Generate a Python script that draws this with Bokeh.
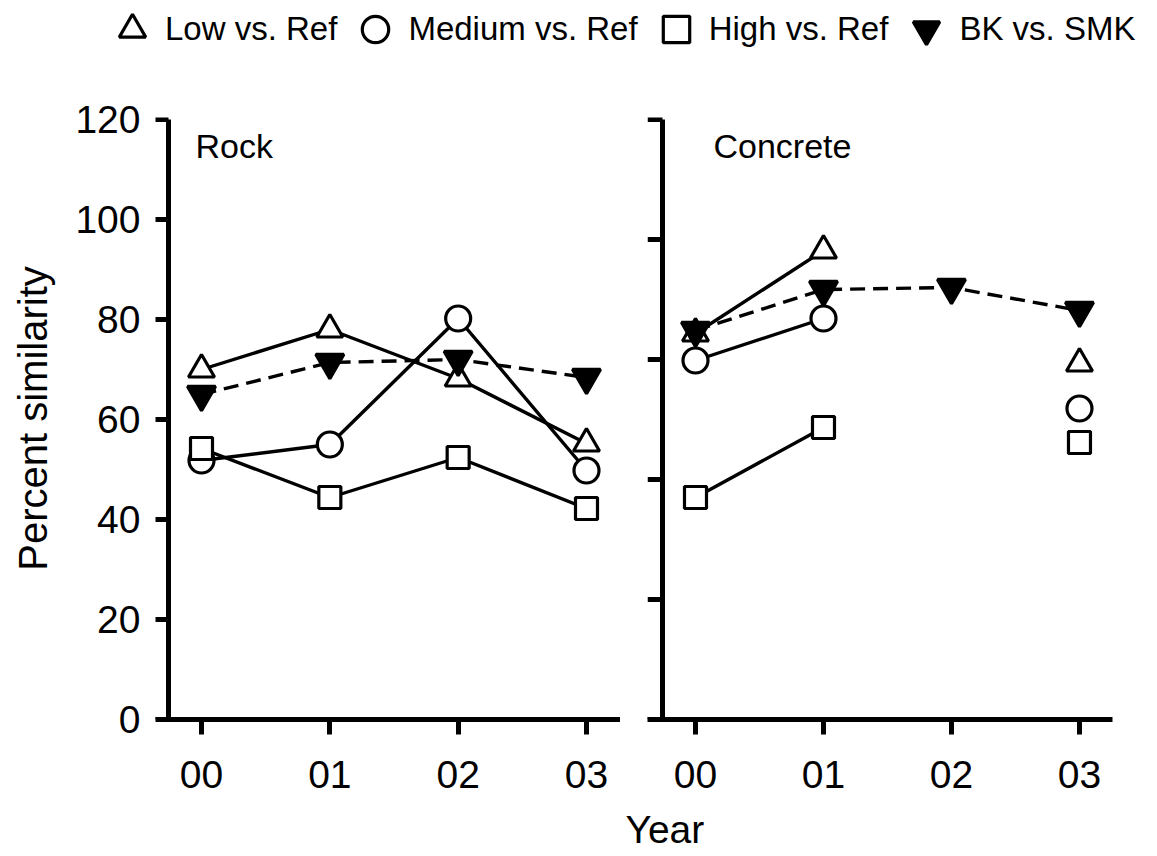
import math
from bokeh.plotting import figure
from bokeh.models import Range1d, FixedTicker, Legend, LegendItem, Label, Title, LinearAxis
from bokeh.layouts import column, row
from bokeh.embed import file_html
from bokeh.resources import INLINE

nan = float("nan")

# ---------------- data ----------------
years = [0, 1, 2, 3]
year_labels = ["00", "01", "02", "03"]
left_yticks = [0, 20, 40, 60, 80, 100, 120]
right_yticks = [0, 24, 48, 72, 96, 120]

series_names = ["Low vs. Ref", "Medium vs. Ref", "High vs. Ref", "BK vs. SMK"]

rock_low = [70.0, 78.0, 68.2, 55.2]
rock_medium = [51.8, 55.0, 80.2, 49.8]
rock_high = [54.2, 44.4, 52.4, 42.2]
rock_bk = [65.0, 71.4, 72.0, 68.4]

concrete_low = [77.2, 93.8, nan, 71.2]
concrete_medium = [71.8, 80.2, nan, 62.2]
concrete_high = [44.4, 58.4, nan, 55.4]
concrete_bk = [77.8, 86.0, 86.4, 81.8]

# ---------------- styles ----------------
FONT = "Liberation Sans"

marker_styles = {
    "Low vs. Ref": dict(marker="triangle", size=26, fill_color="white"),
    "Medium vs. Ref": dict(marker="circle", size=25, fill_color="white"),
    "High vs. Ref": dict(marker="square", size=22, fill_color="white"),
    "BK vs. SMK": dict(marker="inverted_triangle", size=28, fill_color="black"),
}
line_dashes = {"Low vs. Ref": "solid", "Medium vs. Ref": "solid",
               "High vs. Ref": "solid", "BK vs. SMK": "15 8"}
draw_order = ["Medium vs. Ref", "High vs. Ref", "Low vs. Ref", "BK vs. SMK"]


def axis_common(ax):
    ax.axis_line_width = 5
    ax.axis_line_color = "black"
    ax.major_tick_line_width = 5
    ax.major_tick_line_color = "black"
    ax.minor_tick_line_color = None
    ax.major_label_text_font = FONT
    ax.major_label_text_font_size = "39px"
    ax.major_label_text_color = "black"
    ax.axis_label_text_font = FONT
    ax.axis_label_text_font_style = "normal"
    ax.axis_label_text_color = "black"


def make_panel(x_start, x_end, yaxis_loc, border_left, border_right, yticks,
               data, panel_name, label_x):
    p = figure(frame_width=465, frame_height=602,
               x_range=Range1d(x_start, x_end), y_range=Range1d(0, 120.4),
               min_border_left=border_left, min_border_right=border_right,
               min_border_top=53, min_border_bottom=137,
               output_backend="svg", toolbar_location=None)
    p.grid.visible = False
    p.outline_line_color = None
    p.background_fill_color = "white"
    p.border_fill_color = "white"

    xa = p.xaxis[0]
    axis_common(xa)
    xa.ticker = FixedTicker(ticks=years)
    xa.major_label_overrides = {y: lab for y, lab in zip(years, year_labels)}
    xa.major_tick_out = 15
    xa.major_tick_in = 0
    xa.major_label_standoff = 26

    # visible y axis line + ticks (no labels), placed a little inside the frame
    ya = LinearAxis(fixed_location=yaxis_loc, ticker=FixedTicker(ticks=yticks),
                    bounds=(0, 120))
    axis_common(ya)
    ya.major_tick_in = 15
    ya.major_tick_out = 0
    ya.major_label_text_font_size = "1px"
    ya.major_label_text_color = None
    ya.major_label_standoff = 0
    p.add_layout(ya, "right")

    for name in series_names:
        p.line(years, data[name], line_color="black", line_width=3.4,
               line_dash=line_dashes[name])
    for name in draw_order:
        p.scatter(years, data[name], line_color="black", line_width=3.2,
                  **marker_styles[name])
    p.add_layout(Label(x=label_x, y=593, x_units="screen", y_units="screen",
                       text=panel_name, text_font=FONT, text_font_size="34px",
                       text_baseline="top", text_color="black"))
    return p


left = make_panel(-0.3585, 3.265, -0.257, 155, 0, left_yticks,
                  dict(zip(series_names, [rock_low, rock_medium, rock_high, rock_bk])),
                  "Rock", 40)
lab_axis = left.yaxis[0]
axis_common(lab_axis)
lab_axis.ticker = FixedTicker(ticks=left_yticks)
lab_axis.axis_line_color = None
lab_axis.major_tick_line_color = None
lab_axis.major_tick_out = 0
lab_axis.major_tick_in = 0
lab_axis.major_label_standoff = 15
lab_axis.axis_label = "Percent similarity"
lab_axis.axis_label_text_font_size = "40px"
lab_axis.axis_label_standoff = 17

right = make_panel(-0.375, 3.258, -0.258, 27, 45, right_yticks,
                   dict(zip(series_names, [concrete_low, concrete_medium, concrete_high, concrete_bk])),
                   "Concrete", 66)
right.yaxis[0].visible = False
right.add_layout(Title(text="Year", align="left", offset=-22, standoff=31,
                       text_font=FONT, text_font_size="39px",
                       text_font_style="normal", text_color="black"), "below")

# ---------------- legend strip ----------------
leg = figure(width=1157, height=64, x_range=Range1d(10, 11), y_range=Range1d(0, 1),
             min_border=0, output_backend="svg", toolbar_location=None)
leg.axis.visible = False
leg.grid.visible = False
leg.outline_line_color = None
legend_data = [rock_low, rock_medium, rock_high, rock_bk]
items = []
for name, vals in zip(series_names, legend_data):
    r = leg.scatter(years, vals, line_color="black", line_width=3.2,
                    visible=False, **marker_styles[name])
    items.append(LegendItem(label=name, renderers=[r]))
legend = Legend(items=items, orientation="horizontal", location=(99, 0),
                glyph_width=66, glyph_height=70, label_standoff=0, spacing=5,
                padding=0, margin=0, border_line_color=None,
                background_fill_alpha=0, inactive_fill_alpha=0,
                label_text_font=FONT, label_text_font_size="33px",
                label_text_color="black", click_policy="none")
leg.add_layout(legend, "center")

layout = column(leg, row(left, right))
open("out.html", "w").write(file_html(layout, INLINE))
